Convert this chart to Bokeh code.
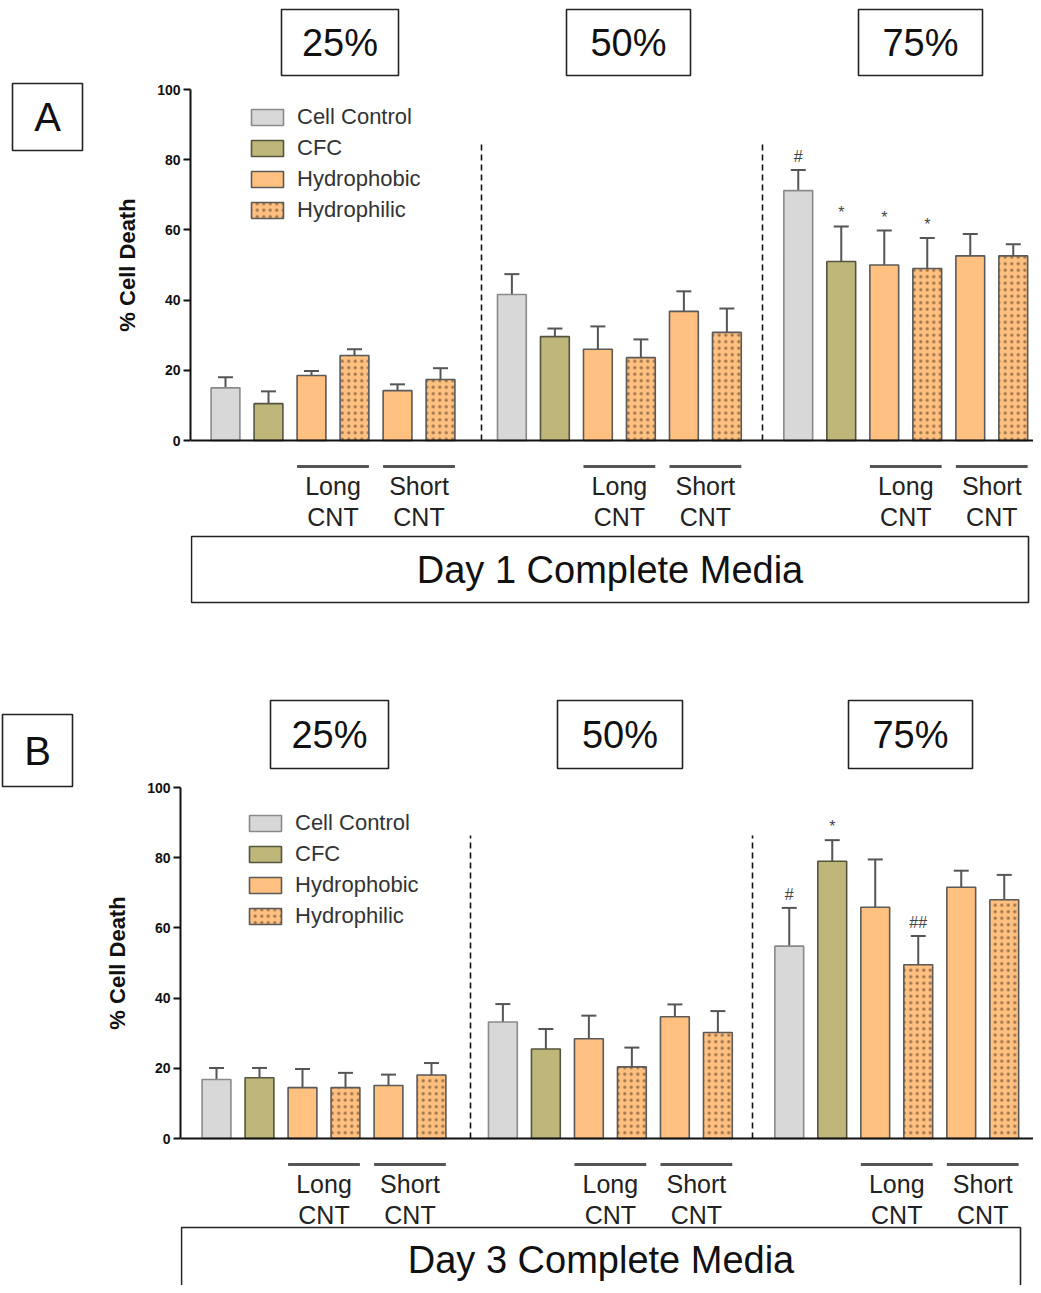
from bokeh.plotting import figure
from bokeh.models import (ColumnDataSource, Whisker, TeeHead, BoxAnnotation, Label,
                          Legend, LegendItem, FixedTicker, Span, Range1d)
from bokeh.layouts import column, row
from bokeh.embed import file_html
from bokeh.resources import INLINE
from bokeh.core.properties import value

# ---------------- data ----------------
series = ["Cell Control", "CFC", "Hydrophobic", "Hydrophilic"]
bar_series = ["Cell Control", "CFC", "Hydrophobic", "Hydrophilic", "Hydrophobic", "Hydrophilic"]
concentrations = ["25%", "50%", "75%"]
y_ticks = [0, 20, 40, 60, 80, 100]
y_label = "% Cell Death"

# Day 1 complete media (A)
d1_25_mean = [15.0, 10.5, 18.5, 24.2, 14.2, 17.4]
d1_25_err = [3.0, 3.5, 1.3, 1.8, 1.8, 3.2]
d1_50_mean = [41.6, 29.6, 26.0, 23.6, 36.8, 30.8]
d1_50_err = [5.8, 2.3, 6.5, 5.2, 5.7, 6.8]
d1_75_mean = [71.2, 51.0, 50.0, 49.0, 52.6, 52.6]
d1_75_err = [5.9, 10.0, 9.8, 8.7, 6.2, 3.3]
d1_25_marks = ["", "", "", "", "", ""]
d1_50_marks = ["", "", "", "", "", ""]
d1_75_marks = ["#", "*", "*", "*", "", ""]

# Day 3 complete media (B)
d3_25_mean = [16.8, 17.3, 14.5, 14.5, 15.1, 18.1]
d3_25_err = [3.3, 2.8, 5.3, 4.2, 3.1, 3.4]
d3_50_mean = [33.2, 25.5, 28.4, 20.4, 34.7, 30.2]
d3_50_err = [5.1, 5.7, 6.6, 5.5, 3.5, 6.1]
d3_75_mean = [54.8, 79.0, 65.9, 49.5, 71.6, 68.0]
d3_75_err = [10.9, 6.0, 13.6, 8.2, 4.7, 7.1]
d3_25_marks = ["", "", "", "", "", ""]
d3_50_marks = ["", "", "", "", "", ""]
d3_75_marks = ["#", "*", "", "##", "", ""]

# ---------------- styles ----------------
FONT = "Liberation Sans"
fills = {"Cell Control": "#d8d8d8", "CFC": "#bfb77a", "Hydrophobic": "#ffc080", "Hydrophilic": "#ffc080"}
outlines = {"Cell Control": "#8a8a8a", "CFC": "#55543f", "Hydrophobic": "#5a5a5a", "Hydrophilic": "#5a5a5a"}
PX_X = 43.0     # px per bar slot
PX_Y = 3.51     # px per percent
GROUP_STEP = 6.66
BAR_W = 0.67
TOTAL_W = 1033
BOX_COLOR = "#222222"


def base_fig(width, height, x_range, y_range, left_border=0):
    p = figure(width=width, height=height, x_range=x_range, y_range=y_range,
               x_axis_location=None, y_axis_location=None if left_border == 0 else "left",
               toolbar_location=None, output_backend="svg",
               min_border=0, min_border_left=left_border, min_border_right=0,
               min_border_top=0, min_border_bottom=0)
    p.grid.visible = False
    p.outline_line_color = None
    p.background_fill_color = "white"
    p.border_fill_color = "white"
    return p


def make_panel(means, errs, marks, letter, day_text, L):
    top_r, bot_r = L["top_ref"], L["bot_ref"]
    H = bot_r - top_r
    lw = L["left_w"]
    axr = L["axis_ref"]
    x0 = L["x_start"]
    y0r = L["y0_ref"]

    # ---- left strip: panel letter and y-axis title ----
    pl = base_fig(lw, H, Range1d(0, lw), Range1d(bot_r, top_r))
    l, t, r, b = L["letter_box"]
    pl.add_layout(BoxAnnotation(left=l, right=r, top=t, bottom=b, fill_color=None, fill_alpha=0,
                                line_color=BOX_COLOR, line_width=1.6, line_alpha=1))
    pl.add_layout(Label(x=(l + r) / 2, y=(t + b) / 2, text=letter, text_align="center",
                        text_baseline="middle", text_font=FONT, text_font_size="40px",
                        text_color="#111111"))
    pl.add_layout(Label(x=L["ylabel_x"], y=(y0r + (y0r - 100 * PX_Y)) / 2, text=y_label,
                        angle=90, angle_units="deg", text_align="center",
                        text_baseline="middle", text_font=FONT, text_font_size="22px",
                        text_font_style="bold", text_color="#111111"))

    # ---- main chart ----
    def fx(px):
        return x0 + (px - axr) / PX_X

    def fy(py):
        return (y0r - py) / PX_Y

    p = base_fig(TOTAL_W - lw, H, Range1d(x0, fx(TOTAL_W)), Range1d(fy(bot_r), fy(top_r)),
                 left_border=axr - lw)

    renderers = {}
    for s in series:
        xs, tops = [], []
        for g in range(3):
            for i, bs in enumerate(bar_series):
                if bs == s:
                    xs.append(g * GROUP_STEP + i)
                    tops.append(means[g][i])
        src = ColumnDataSource(dict(x=xs, top=tops))
        kw = dict(fill_color=fills[s], line_color=outlines[s], line_width=1.6)
        if s == "Hydrophilic":
            kw.update(hatch_pattern="dot", hatch_color="#8a6440", hatch_scale=6.5,
                      hatch_weight=1.5, hatch_alpha=0.85)
        renderers[s] = p.vbar(x="x", top="top", bottom=0, width=BAR_W, source=src, **kw)

    all_x, all_top, all_up, all_mark = [], [], [], []
    for g in range(3):
        for i in range(6):
            all_x.append(g * GROUP_STEP + i)
            all_top.append(means[g][i])
            all_up.append(means[g][i] + errs[g][i])
            all_mark.append(marks[g][i])

    esrc = ColumnDataSource(dict(x=all_x, lower=all_top, upper=all_up, mark=all_mark,
                                 my=[u + 1.4 for u in all_up]))
    p.add_layout(Whisker(source=esrc, base="x", lower="lower", upper="upper",
                         dimension="height", line_color="#555555", line_width=2,
                         lower_head=None,
                         upper_head=TeeHead(size=15, line_color="#555555", line_width=2)))
    p.text(x="x", y="my", text="mark", source=esrc, text_align="center",
           text_baseline="bottom", text_font=value(FONT), text_font_size="16px",
           text_color="#444444")

    # baseline
    p.add_layout(Span(location=0, dimension="width", line_color="#111111", line_width=2))

    # dashed separators
    dx = [fx(v) for v in L["dash_x_ref"]]
    p.segment(x0=dx, y0=[0, 0], x1=dx, y1=[fy(L["dash_top_ref"])] * 2,
              line_color="#111111", line_width=1.6, line_dash="6 4")

    # Long / Short CNT bars and labels
    lx0, lx1, tx, tl1, tl2 = [], [], [], [], []
    for g in range(3):
        for k, name in ((2, "Long"), (4, "Short")):
            a = g * GROUP_STEP + k
            lx0.append(a - BAR_W / 2)
            lx1.append(a + 1 + BAR_W / 2)
            tx.append(a + 0.5)
            tl1.append(name)
            tl2.append("CNT")
    ly = fy(y0r + 26)
    p.segment(x0=lx0, y0=[ly] * 6, x1=lx1, y1=[ly] * 6, line_color="#555555", line_width=3)
    p.text(x=tx, y=[fy(y0r + 45)] * 6, text=tl1, text_align="center",
           text_baseline="middle", text_font=value(FONT), text_font_size="25px", text_color="#222222")
    p.text(x=tx, y=[fy(y0r + 76)] * 6, text=tl2, text_align="center",
           text_baseline="middle", text_font=value(FONT), text_font_size="25px", text_color="#222222")

    # boxed labels
    def box(l, t, r, b, text, size, ty):
        p.add_layout(BoxAnnotation(left=fx(l), right=fx(r), top=fy(t), bottom=fy(b),
                                   fill_color=None, fill_alpha=0, line_color=BOX_COLOR,
                                   line_width=1.6, line_alpha=1))
        p.add_layout(Label(x=fx((l + r) / 2), y=fy(ty), text=text, text_align="center",
                           text_baseline="middle", text_font=FONT, text_font_size=size,
                           text_color="#111111"))

    for (bx, txt) in zip(L["conc_boxes"], concentrations):
        box(*bx, txt, "38px", (bx[1] + bx[3]) / 2)
    dl, dt, dr, db = L["day_box"]
    box(dl, dt, dr, db, day_text, "38px", L["day_text_y"])

    # axis
    ax = p.yaxis[0]
    ax.bounds = (0, 100)
    ax.ticker = FixedTicker(ticks=y_ticks)
    ax.minor_tick_line_color = None
    ax.major_tick_in = 0
    ax.major_tick_out = 7
    ax.axis_line_width = 2
    ax.axis_line_color = "#111111"
    ax.major_tick_line_width = 2
    ax.major_tick_line_color = "#111111"
    ax.major_label_text_font = FONT
    ax.major_label_text_font_style = "bold"
    ax.major_label_text_font_size = "14px"
    ax.major_label_text_color = "#111111"
    ax.major_label_standoff = 3

    # legend
    item_h = 26
    leg = Legend(items=[LegendItem(label=s, renderers=[renderers[s]]) for s in series],
                 location=(L["legend_left_ref"] - axr, bot_r - L["legend_row4_ref"] - item_h / 2),
                 glyph_width=40, glyph_height=20, label_standoff=10, spacing=5,
                 padding=0, margin=0, border_line_color=None, background_fill_alpha=0,
                 label_text_font=FONT, label_text_font_size="22px", label_text_color="#333333",
                 label_height=item_h)
    p.add_layout(leg)
    return row(pl, p, spacing=0)


LA = dict(left_w=150, axis_ref=190, x_start=-0.814, y0_ref=440, top_ref=0, bot_ref=648,
          ylabel_x=127, dash_x_ref=[481, 762], dash_top_ref=143,
          letter_box=(12, 83, 82, 150),
          conc_boxes=[(281, 9, 398, 75), (566, 9, 690, 75), (858, 9, 982, 75)],
          day_box=(191, 536, 1028, 602), day_text_y=569,
          legend_left_ref=247, legend_row4_ref=210)
LB = dict(left_w=140, axis_ref=180, x_start=-0.837, y0_ref=1138, top_ref=648, bot_ref=1285,
          ylabel_x=117, dash_x_ref=[470, 752], dash_top_ref=835,
          letter_box=(2, 714, 72, 786),
          conc_boxes=[(270, 700, 388, 768), (557, 700, 682, 768), (848, 700, 972, 768)],
          day_box=(181, 1227, 1020, 1300), day_text_y=1259,
          legend_left_ref=245, legend_row4_ref=916)

rowA = make_panel([d1_25_mean, d1_50_mean, d1_75_mean], [d1_25_err, d1_50_err, d1_75_err],
                  [d1_25_marks, d1_50_marks, d1_75_marks], "A", "Day 1 Complete Media", LA)
rowB = make_panel([d3_25_mean, d3_50_mean, d3_75_mean], [d3_25_err, d3_50_err, d3_75_err],
                  [d3_25_marks, d3_50_marks, d3_75_marks], "B", "Day 3 Complete Media", LB)

layout = column(rowA, rowB, spacing=0)
open("out.html", "w").write(file_html(layout, INLINE))
